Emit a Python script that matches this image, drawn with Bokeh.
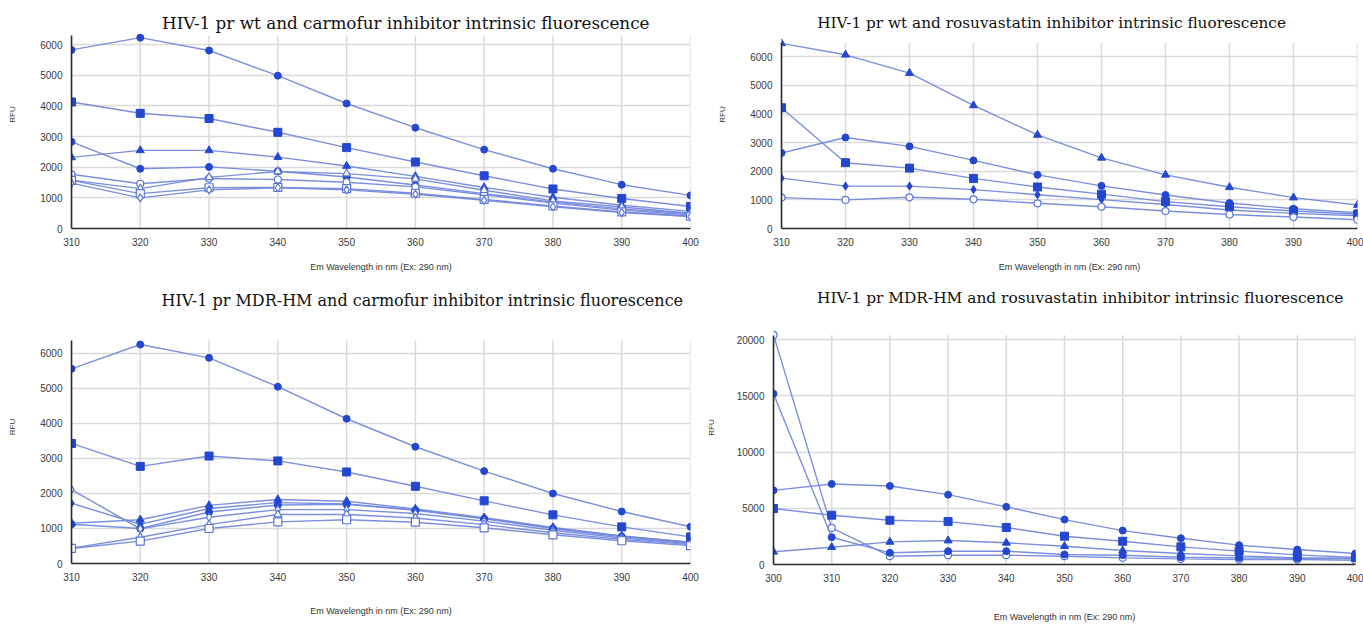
from bokeh.plotting import figure
from bokeh.layouts import column, row
from bokeh.models import Range1d, FixedTicker, Label
from bokeh.embed import file_html
from bokeh.resources import INLINE

# ---------------- data ----------------
wavelength_a = [310, 320, 330, 340, 350, 360, 370, 380, 390, 400]
wavelength_b = [300, 310, 320, 330, 340, 350, 360, 370, 380, 390, 400]

# Panel 1: HIV-1 pr wt and carmofur
wt_carm_circle = [5830, 6230, 5810, 4990, 4080, 3290, 2575, 1950, 1430, 1080]
wt_carm_square = [4130, 3760, 3590, 3140, 2640, 2170, 1720, 1290, 980, 720]
wt_carm_triangle = [2320, 2550, 2550, 2330, 2040, 1700, 1340, 1020, 760, 560]
wt_carm_diamond = [2830, 1950, 2010, 1870, 1680, 1420, 1140, 860, 640, 480]
wt_carm_open_circle = [1770, 1460, 1630, 1600, 1510, 1360, 1100, 830, 600, 440]
wt_carm_open_triangle = [1580, 1300, 1670, 1860, 1790, 1620, 1250, 900, 700, 500]
wt_carm_open_square = [1570, 1140, 1330, 1340, 1300, 1150, 950, 740, 540, 400]
wt_carm_open_diamond = [1480, 1000, 1260, 1330, 1260, 1120, 920, 710, 520, 390]

# Panel 2: HIV-1 pr wt and rosuvastatin
wt_rosu_triangle = [6470, 6070, 5430, 4300, 3270, 2470, 1875, 1440, 1080, 820]
wt_rosu_square = [4220, 2300, 2110, 1750, 1450, 1200, 940, 760, 610, 500]
wt_rosu_circle = [2640, 3180, 2870, 2380, 1875, 1490, 1170, 890, 690, 550]
wt_rosu_diamond = [1760, 1480, 1480, 1360, 1180, 1010, 840, 645, 530, 445]
wt_rosu_open_circle = [1080, 1000, 1090, 1020, 880, 760, 610, 490, 400, 305]

# Panel 3: HIV-1 pr MDR-HM and carmofur
mdr_carm_circle = [5560, 6255, 5875, 5050, 4135, 3335, 2640, 2000, 1485, 1050]
mdr_carm_square = [3430, 2775, 3070, 2930, 2615, 2205, 1790, 1390, 1045, 760]
mdr_carm_triangle = [1150, 1250, 1660, 1830, 1780, 1560, 1310, 1030, 790, 610]
mdr_carm_diamond = [1720, 1120, 1570, 1740, 1700, 1540, 1290, 1010, 780, 600]
mdr_carm_small_circle = [1120, 1000, 1470, 1670, 1690, 1520, 1280, 1000, 770, 590]
mdr_carm_open_diamond = [2110, 990, 1320, 1540, 1540, 1430, 1210, 950, 730, 570]
mdr_carm_open_triangle = [440, 750, 1110, 1400, 1400, 1300, 1110, 880, 690, 540]
mdr_carm_open_square = [430, 640, 1000, 1190, 1250, 1180, 1020, 820, 650, 510]

# Panel 4: HIV-1 pr MDR-HM and rosuvastatin
mdr_rosu_open_circle = [20440, 3260, 740, 830, 830, 740, 590, 500, 440, 440, 380]
mdr_rosu_diamond = [15200, 2430, 1040, 1185, 1185, 890, 830, 650, 590, 560, 560]
mdr_rosu_circle = [6600, 7170, 6990, 6220, 5130, 4000, 3020, 2340, 1720, 1330, 980]
mdr_rosu_square = [4980, 4390, 3940, 3820, 3290, 2520, 2070, 1570, 1190, 860, 620]
mdr_rosu_triangle = [1130, 1540, 2010, 2130, 1930, 1630, 1240, 980, 770, 590, 500]

titles = [
    "HIV-1 pr wt and carmofur inhibitor intrinsic fluorescence",
    "HIV-1 pr wt and rosuvastatin inhibitor intrinsic fluorescence",
    "HIV-1 pr MDR-HM and carmofur inhibitor intrinsic fluorescence",
    "HIV-1 pr MDR-HM and rosuvastatin inhibitor intrinsic fluorescence",
]
x_label = "Em Wavelength in nm (Ex: 290 nm)"
y_label = "RFU"
ticks_6k = [0, 1000, 2000, 3000, 4000, 5000, 6000]
ticks_20k = [0, 5000, 10000, 15000, 20000]

# ---------------- style ----------------
LINE = "#7489dc"
MARK = "#2447cf"
OPEN = "#5b74d8"
GRID = "#dadada"


def panel(title, xs, series, xr, y_top, yticks, w, h, borders,
          title_x, title_gap, title_size, xlab_standoff, ylab_standoff):
    left, right, top, bottom = borders
    plot_h = h - top - bottom               # height of the data area
    per_px = y_top / plot_h
    y_end = y_top + top * per_px            # frame reaches the top of the figure
    p = figure(width=w, height=h, output_backend="svg", toolbar_location=None,
               x_range=Range1d(*xr), y_range=Range1d(0, y_end),
               min_border_left=left, min_border_right=right,
               min_border_top=0, min_border_bottom=bottom)
    if "frame_align" in p.properties():
        p.frame_align = False
    p.outline_line_color = None
    p.background_fill_color = "white"
    p.border_fill_color = "white"

    p.xaxis.ticker = FixedTicker(ticks=list(xs))
    p.yaxis.ticker = FixedTicker(ticks=yticks)
    p.yaxis.bounds = (0, y_top)
    for ax in (p.xaxis, p.yaxis):
        ax.axis_line_color = "#2b2b2b"
        ax.axis_line_width = 1.6
        ax.major_tick_line_color = None
        ax.minor_tick_line_color = None
        ax.major_label_text_font = "Liberation Sans"
        ax.major_label_text_font_size = "10px"
        ax.major_label_text_color = "#3a3a3a"
        ax.axis_label_text_font = "Liberation Sans"
        ax.axis_label_text_font_style = "normal"
        ax.axis_label_text_color = "#333333"
        ax.major_label_standoff = 3
    p.xaxis.axis_label = x_label
    p.xaxis.axis_label_text_font_size = "9px"
    p.xaxis.axis_label_standoff = xlab_standoff
    p.yaxis.axis_label = y_label
    p.yaxis.axis_label_text_font_size = "8px"
    p.yaxis.axis_label_standoff = ylab_standoff

    # grid: horizontal lines from the grid, vertical lines only up to the data area top
    p.ygrid.grid_line_color = GRID
    p.ygrid.grid_line_width = 1.5
    p.xgrid.visible = False
    p.segment(x0=list(xs), y0=[0] * len(xs), x1=list(xs), y1=[y_top] * len(xs),
              line_color=GRID, line_width=1.5, level="underlay")

    for ys, marker, filled in series:
        p.line(xs, ys, line_color=LINE, line_width=1.4, line_alpha=0.95)
    for ys, marker, filled in series:
        size = {"circle": 7, "square": 8, "triangle": 8, "diamond": 8}[marker]
        if filled:
            p.scatter(xs, ys, marker=marker, size=size, fill_color=MARK,
                      line_color=MARK, line_width=1)
        else:
            p.scatter(xs, ys, marker=marker, size=size, fill_color="white",
                      line_color=OPEN, line_width=1.2)

    p.add_layout(Label(x=title_x, y=y_top + title_gap * per_px, text=title,
                       text_align="center", text_baseline="middle",
                       text_font="DejaVu Serif", text_font_size=title_size,
                       text_color="#111111"))
    return p


s1 = [(wt_carm_circle, "circle", True), (wt_carm_square, "square", True),
      (wt_carm_triangle, "triangle", True), (wt_carm_diamond, "circle", True),
      (wt_carm_open_circle, "circle", False), (wt_carm_open_triangle, "triangle", False),
      (wt_carm_open_square, "square", False), (wt_carm_open_diamond, "diamond", False)]
s2 = [(wt_rosu_triangle, "triangle", True), (wt_rosu_square, "square", True),
      (wt_rosu_circle, "circle", True), (wt_rosu_diamond, "diamond", True),
      (wt_rosu_open_circle, "circle", False)]
s3 = [(mdr_carm_circle, "circle", True), (mdr_carm_square, "square", True),
      (mdr_carm_triangle, "triangle", True), (mdr_carm_diamond, "diamond", True),
      (mdr_carm_small_circle, "circle", True), (mdr_carm_open_diamond, "diamond", False),
      (mdr_carm_open_triangle, "triangle", False), (mdr_carm_open_square, "square", False)]
s4 = [(mdr_rosu_open_circle, "circle", False), (mdr_rosu_diamond, "circle", True),
      (mdr_rosu_circle, "circle", True), (mdr_rosu_square, "square", True),
      (mdr_rosu_triangle, "triangle", True)]

p1 = panel(titles[0], wavelength_a, s1, (310, 400), 6300, ticks_6k,
           700, 290, (71, 10, 35, 62), 358.6, 13, "16.8px", 13, 20)
p2 = panel(titles[1], wavelength_a, s2, (310, 400), 6500, ticks_6k,
           663, 290, (81, 6, 42, 62), 352.2, 20, "15.3px", 13, 20)
p3 = panel(titles[2], wavelength_a, s3, (310, 400), 6370, ticks_6k,
           700, 334, (71, 10, 50, 61), 361.0, 40, "16px", 22, 20)
p4 = panel(titles[3], wavelength_b, s4, (300, 400), 20400, ticks_20k,
           663, 334, (73, 8, 45, 59), 352.7, 37, "15.4px", 27, 18)

layout = column(row(p1, p2, spacing=0), row(p3, p4, spacing=0), spacing=0)
open("out.html", "w").write(file_html(layout, INLINE))
